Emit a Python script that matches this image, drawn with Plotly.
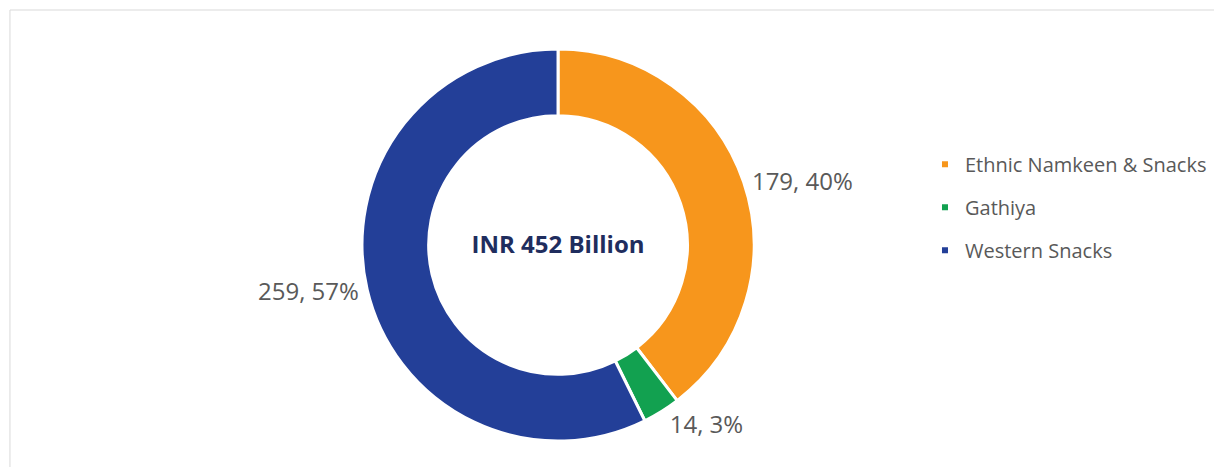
import plotly.graph_objects as go

labels = ["Ethnic Namkeen & Snacks", "Gathiya", "Western Snacks"]
values = [179, 14, 259]
colors = ["#F7961C", "#12A150", "#233F98"]
total_label = "INR 452 Billion"

fig = go.Figure()

# donut
fig.add_trace(go.Pie(
    labels=labels,
    values=values,
    hole=0.66,
    sort=False,
    direction="clockwise",
    rotation=0,
    marker=dict(colors=colors, line=dict(color="white", width=3)),
    texttemplate="%{value}, %{percent:.0%}",
    textposition="outside",
    textfont=dict(family="Open Sans", size=24, color="#595959"),
    title=dict(text="<b>" + total_label + "</b>", position="middle center",
               font=dict(family="Open Sans", size=24, color="#1F2D5E")),
    domain=dict(x=[0.2897, 0.6105], y=[0.0728, 0.9122]),
    showlegend=False,
    hoverinfo="label+value+percent",
))

# legend entries (one group each so they can be spaced out)
for lab, col in zip(labels, colors):
    fig.add_trace(go.Scatter(
        x=[None], y=[None], mode="markers", name=lab, legendgroup=lab,
        marker=dict(symbol="square", size=6, color=col),
    ))

fig.update_layout(
    width=1222, height=467,
    margin=dict(l=0, r=0, t=0, b=0),
    paper_bgcolor="white", plot_bgcolor="white",
    xaxis=dict(visible=False), yaxis=dict(visible=False),
    legend=dict(x=0.7504, y=0.707, xanchor="left", yanchor="top",
                font=dict(family="Open Sans", size=20, color="#595959"),
                tracegroupgap=14, itemwidth=30, bgcolor="rgba(0,0,0,0)"),
    shapes=[dict(type="rect", xref="paper", yref="paper",
                 x0=0.0016, x1=0.9885, y0=-0.05, y1=0.9957,
                 line=dict(color="#D9D9D9", width=1))],
)

fig.write_html("out.html")
